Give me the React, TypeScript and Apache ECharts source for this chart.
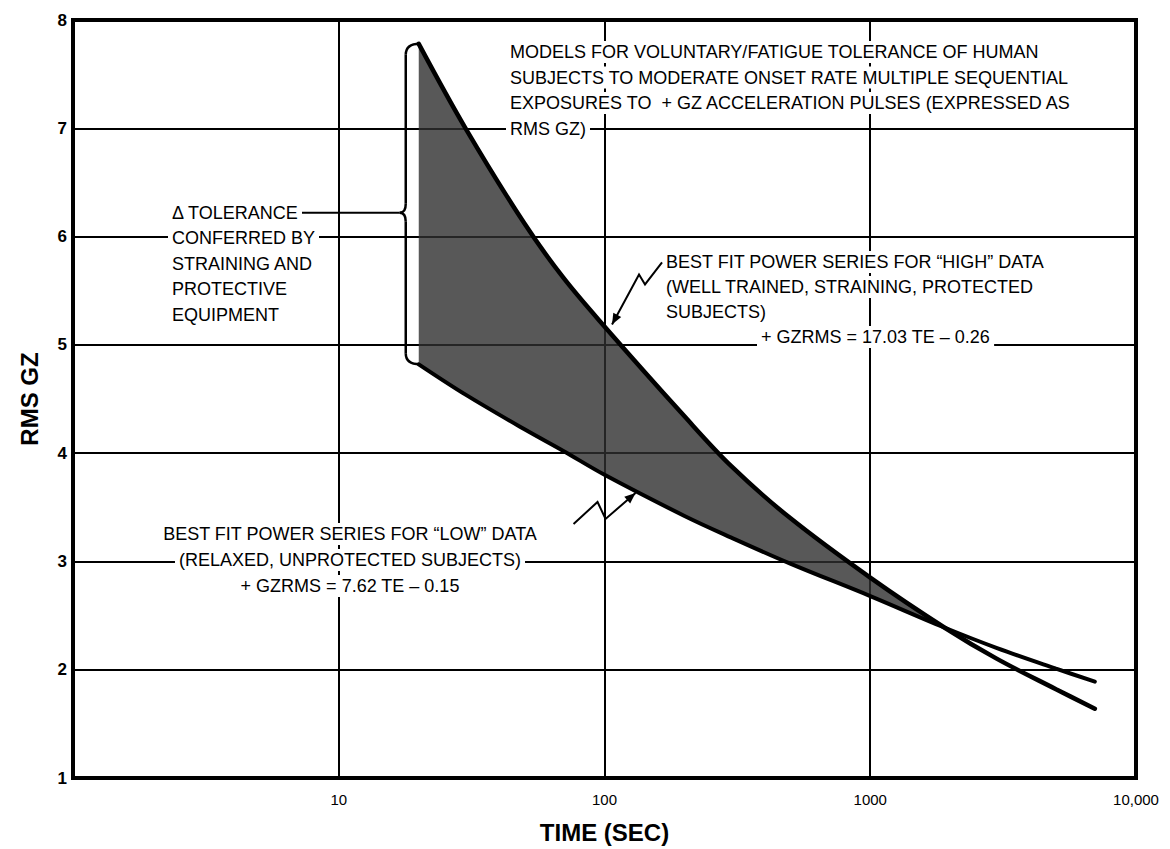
import React, { useEffect, useRef } from "react";
import * as echarts from "echarts";

// ---- data ----
const TIME_SEC = [20, 30, 50, 70, 100, 200, 300, 500, 1000, 1900, 3000, 5000, 7000];
const HIGH_GZ = [7.78, 7.0, 6.12, 5.62, 5.17, 4.34, 3.88, 3.4, 2.85, 2.39, 2.1, 1.82, 1.64];
const LOW_GZ = [4.82, 4.54, 4.22, 4.02, 3.8, 3.42, 3.22, 2.98, 2.68, 2.39, 2.2, 2.01, 1.89];
const BAND_LAST = 9; // index where the two fits meet
const X_TICK_LABELS: Record<number, string> = { 1: "", 10: "10", 100: "100", 1000: "1000", 10000: "10,000" };

const TITLE_LINES = [
  "MODELS FOR VOLUNTARY/FATIGUE TOLERANCE OF HUMAN",
  "SUBJECTS TO MODERATE ONSET RATE MULTIPLE SEQUENTIAL",
  "EXPOSURES TO  + GZ ACCELERATION PULSES (EXPRESSED AS",
  "RMS GZ)",
];
const DELTA_LINES = ["Δ TOLERANCE", "CONFERRED BY", "STRAINING AND", "PROTECTIVE", "EQUIPMENT"];
const HIGH_NOTE = [
  "BEST FIT POWER SERIES FOR \u201CHIGH\u201D DATA",
  "(WELL TRAINED, STRAINING, PROTECTED",
  "SUBJECTS)",
];
const HIGH_EQ = "+ GZRMS = 17.03 TE \u2013 0.26";
const LOW_NOTE = [
  "BEST FIT POWER SERIES FOR \u201CLOW\u201D DATA",
  "(RELAXED, UNPROTECTED SUBJECTS)",
  "+ GZRMS = 7.62 TE \u2013 0.15",
];

const FONT = '"Liberation Sans", Arial, Helvetica, sans-serif';
const SMOOTH = 0.35;

function textEl(text: string, x: number, y: number, align: string = "left") {
  return {
    type: "text",
    x,
    y,
    z: 100,
    style: {
      text,
      fill: "#000",
      font: `18px ${FONT}`,
      textAlign: align,
      textVerticalAlign: "middle",
      backgroundColor: "#fff",
      padding: [2, 4],
    },
  };
}

function arrowHead(tip: number[], from: number[], len = 11, half = 4.5) {
  const dx = tip[0] - from[0];
  const dy = tip[1] - from[1];
  const d = Math.hypot(dx, dy) || 1;
  const ux = dx / d, uy = dy / d;
  const nx = -uy, ny = ux;
  const bx = tip[0] - ux * len, by = tip[1] - uy * len;
  return {
    type: "polygon",
    z: 101,
    shape: { points: [tip, [bx + nx * half, by + ny * half], [bx - nx * half, by - ny * half]] },
    style: { fill: "#000" },
  };
}

// control points (before, after) for each pixel point, same idea as the line smoothing
function controls(pts: number[][], s: number) {
  const n = pts.length;
  return pts.map((c, i) => {
    if (i === 0 || i === n - 1) return [c, c];
    const p = pts[i - 1], q = pts[i + 1];
    const vx = q[0] - p[0], vy = q[1] - p[1];
    const dp = Math.hypot(c[0] - p[0], c[1] - p[1]);
    const dn = Math.hypot(q[0] - c[0], q[1] - c[1]);
    const r = dn / (dp + dn || 1);
    return [
      [c[0] - vx * s * (1 - r), c[1] - vy * s * (1 - r)],
      [c[0] + vx * s * r, c[1] + vy * s * r],
    ];
  });
}

export default function App() {
  const ref = useRef<HTMLDivElement>(null);

  useEffect(() => {
    if (!ref.current) return;
    const chart = echarts.init(ref.current, undefined, { renderer: "svg" });

    const highLine = TIME_SEC.map((t, i) => [t, HIGH_GZ[i]]);
    const lowLine = TIME_SEC.map((t, i) => [t, LOW_GZ[i]]);

    const bandRender = (_params: any, api: any) => {
      const hp = highLine.map((d) => api.coord(d));
      const lp = lowLine.map((d) => api.coord(d));
      const hc = controls(hp, SMOOTH);
      const lc = controls(lp, SMOOTH);
      const f = (p: number[]) => `${p[0].toFixed(2)},${p[1].toFixed(2)}`;
      let d = `M${f(hp[0])}`;
      for (let i = 0; i < BAND_LAST; i++) {
        d += ` C${f(hc[i][1])} ${f(hc[i + 1][0])} ${f(hp[i + 1])}`;
      }
      d += ` L${f(lp[BAND_LAST])}`;
      for (let i = BAND_LAST; i > 0; i--) {
        d += ` C${f(lc[i][0])} ${f(lc[i - 1][1])} ${f(lp[i - 1])}`;
      }
      d += " Z";
      return {
        type: "path",
        shape: { pathData: d },
        style: { fill: "#2e2e2e", opacity: 0.8, stroke: "none" },
      };
    };

    chart.setOption({
      animation: false,
      backgroundColor: "#fff",
      grid: {
        left: 73,
        right: 34,
        top: 20,
        bottom: 71,
        show: true,
        borderColor: "#000",
        borderWidth: 4,
      },
      xAxis: {
        type: "log",
        logBase: 10,
        min: 1,
        max: 10000,
        name: "TIME (SEC)",
        nameLocation: "middle",
        nameGap: 42,
        nameTextStyle: { fontFamily: FONT, fontWeight: "bold", fontSize: 24, color: "#000" },
        axisLine: { show: false },
        axisTick: { show: false },
        axisLabel: {
          margin: 14,
          fontFamily: FONT,
          fontSize: 15,
          color: "#000",
          formatter: (v: number) => X_TICK_LABELS[Math.round(v)] ?? "",
        },
        splitLine: { show: true, lineStyle: { color: "#000", width: 2 } },
        minorSplitLine: { show: false },
      },
      yAxis: {
        type: "value",
        min: 1,
        max: 8,
        interval: 1,
        name: "RMS GZ",
        nameLocation: "middle",
        nameGap: 32,
        nameRotate: 90,
        nameTextStyle: { fontFamily: FONT, fontWeight: "bold", fontSize: 24, color: "#000" },
        axisLine: { show: false },
        axisTick: { show: false },
        axisLabel: { margin: 6, fontFamily: FONT, fontSize: 17, fontWeight: "bold", color: "#000" },
        splitLine: { show: true, lineStyle: { color: "#000", width: 2 } },
      },
      series: [
        {
          type: "custom",
          name: "Δ tolerance band",
          renderItem: bandRender,
          data: [[TIME_SEC[0], HIGH_GZ[0]]],
          silent: true,
          z: 2,
        },
        {
          type: "line",
          name: "HIGH",
          data: highLine,
          smooth: SMOOTH,
          symbol: "none",
          lineStyle: { color: "#000", width: 4.5, cap: "round" },
          z: 3,
        },
        {
          type: "line",
          name: "LOW",
          data: lowLine,
          smooth: SMOOTH,
          symbol: "none",
          lineStyle: { color: "#000", width: 4, cap: "round" },
          z: 3,
        },
      ],
    });

    const px = (t: number, v: number) => chart.convertToPixel({ gridIndex: 0 }, [t, v]) as number[];

    // brace spanning the band at its left end
    const top = px(TIME_SEC[0], HIGH_GZ[0]);
    const bot = px(TIME_SEC[0], LOW_GZ[0]);
    const mid = px(TIME_SEC[0], 6.22);
    const xT = top[0] + 1;
    const xS = xT - 14;
    const xTip = xT - 20;
    const braceStyle = { stroke: "#000", lineWidth: 2.5, fill: "none" };
    const brace = [
      { type: "bezierCurve", shape: { x1: xT, y1: top[1], cpx1: xS, cpy1: top[1], x2: xS, y2: top[1] + 11 }, style: braceStyle },
      { type: "line", shape: { x1: xS, y1: top[1] + 11, x2: xS, y2: mid[1] - 9 }, style: braceStyle },
      { type: "bezierCurve", shape: { x1: xS, y1: mid[1] - 9, cpx1: xS, cpy1: mid[1], x2: xTip, y2: mid[1] }, style: braceStyle },
      { type: "bezierCurve", shape: { x1: xTip, y1: mid[1], cpx1: xS, cpy1: mid[1], x2: xS, y2: mid[1] + 9 }, style: braceStyle },
      { type: "line", shape: { x1: xS, y1: mid[1] + 9, x2: xS, y2: bot[1] - 11 }, style: braceStyle },
      { type: "bezierCurve", shape: { x1: xS, y1: bot[1] - 11, cpx1: xS, cpy1: bot[1], x2: xT, y2: bot[1] }, style: braceStyle },
    ].map((e) => ({ ...e, z: 90 }));

    // zig-zag pointers
    const hiTip = px(104, 5.17);
    hiTip[0] += 3; hiTip[1] -= 2;
    const hiPts = [
      [hiTip[0] + 50, hiTip[1] - 62],
      [hiTip[0] + 33, hiTip[1] - 40],
      [hiTip[0] + 27, hiTip[1] - 50],
      hiTip,
    ];
    const loTip = px(132, 3.66);
    loTip[0] -= 1; loTip[1] += 3;
    const loPts = [
      [loTip[0] - 62, loTip[1] + 31],
      [loTip[0] - 38, loTip[1] + 9],
      [loTip[0] - 30, loTip[1] + 26],
      loTip,
    ];
    const zig = (pts: number[][]) => [
      { type: "polyline", z: 101, shape: { points: pts }, style: { stroke: "#000", lineWidth: 2, fill: "none" } },
      arrowHead(pts[pts.length - 1], pts[pts.length - 2]),
    ];

    const texts: any[] = [];
    TITLE_LINES.forEach((s, i) => texts.push(textEl(s, 506, 52 + i * 25.5)));
    DELTA_LINES.forEach((s, i) => texts.push(textEl(s, 168, mid[1] + i * 25.5)));
    HIGH_NOTE.forEach((s, i) => texts.push(textEl(s, 662, 262 + i * 25)));
    texts.push(textEl(HIGH_EQ, 757, 337));
    LOW_NOTE.forEach((s, i) => texts.push(textEl(s, 350, 534 + i * 26, "center")));

    const leader = {
      type: "line",
      z: 101,
      shape: { x1: 302, y1: mid[1], x2: xTip, y2: mid[1] },
      style: { stroke: "#000", lineWidth: 2 },
    };

    chart.setOption({
      graphic: [...texts, ...brace, leader, ...zig(hiPts), ...zig(loPts)],
    });

    return () => chart.dispose();
  }, []);

  return (
    <div
      ref={ref}
      style={{ position: "absolute", left: 0, top: 0, width: 1170, height: 849, background: "#fff" }}
    />
  );
}
